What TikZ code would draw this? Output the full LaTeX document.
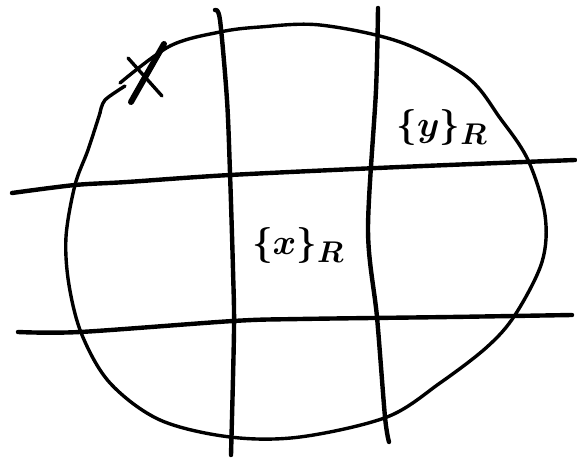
\documentclass[tikz,border=0pt]{standalone}
\usepackage{amsmath}
\begin{document}
\begin{tikzpicture}[x=1bp,y=-1bp,
  ink/.style={line width=3.4bp,line cap=round,line join=round,black},
  grid/.style={line width=4.4bp,line cap=round,line join=round,black},
  lbl/.style={font=\fontsize{30}{36}\selectfont,scale=1.45}]
\useasboundingbox (0,0) rectangle (577,463);
% blob
\draw[ink] plot[smooth,tension=0.55] coordinates {
 (120,83) (170,46) (220,32) (260,27) (320,25) (400,42) (467,77) (500,118)
 (528,160) (545,215) (542,262) (515,315) (487,347) (440,383) (387,417)
 (300,437) (230,437) (160,420) (110,383) (82,335) (69,285) (66,237)
 (75,185) (88,150) (100,113)};
\draw[ink] plot[smooth] coordinates {(100,113) (105,100) (125,86)};
% X mark
\draw[ink] (128,58) -- (162,96);
\draw[ink,line width=6bp] (131,102) -- (164,44);
% horizontal lines
\draw[grid] plot[smooth] coordinates {(12,193) (75,185) (127,182) (230,175) (400,167) (575,160)};
\draw[grid] plot[smooth] coordinates {(18,332) (80,332) (233,321) (300,319) (450,317) (572,315)};
% vertical lines
\draw[grid] plot[smooth] coordinates {(215,10) (220,20) (227,100) (230,173) (233,270) (234,330) (231,455)};
\draw[grid] plot[smooth] coordinates {(378,8) (376,90) (368,230) (377,317) (385,417) (389,442)};
% labels
\node[lbl] (lx) at (298,246) {$\boldsymbol{\{x\}_R}$};
\node[lbl] (ly) at (442,128) {$\boldsymbol{\{y\}_R}$};
\end{tikzpicture}
\end{document}
